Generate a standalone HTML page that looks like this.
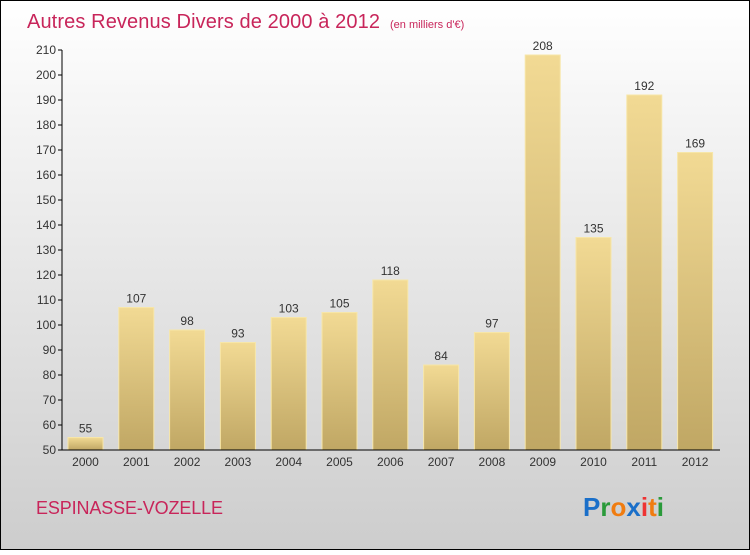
<!DOCTYPE html>
<html><head><meta charset="utf-8"><style>
html,body{margin:0;padding:0}
body{width:750px;height:550px;overflow:hidden;font-family:"Liberation Sans",sans-serif}
</style></head><body>
<svg id="chart" width="750" height="550" xmlns="http://www.w3.org/2000/svg">
<defs>
<linearGradient id="bg" x1="0" y1="0" x2="0" y2="1"><stop offset="0" stop-color="#ffffff"/><stop offset="1" stop-color="#cdcdcd"/></linearGradient>
<linearGradient id="bar" x1="0" y1="0" x2="0" y2="1"><stop offset="0" stop-color="#f2da94"/><stop offset="1" stop-color="#c0a764"/></linearGradient>
</defs>
<rect x="0.5" y="0.5" width="749" height="549" fill="url(#bg)" stroke="#000"/>
<text x="27" y="28" font-size="20" fill="#c8255a" textLength="353">Autres Revenus Divers de 2000 à 2012</text>
<text x="390" y="28" font-size="11" fill="#c8255a">(en milliers d'€)</text>
<g id="bars"></g>
<g id="axes"></g>
<text x="36" y="514" font-size="18" fill="#c8255a" textLength="187">ESPINASSE-VOZELLE</text>
<g font-size="26" font-weight="bold" font-family="'Liberation Sans',sans-serif">
<text x="583" y="516"><tspan fill="#1a6fc9">P</tspan><tspan fill="#2a9a3a">r</tspan><tspan fill="#f07c10">o</tspan><tspan fill="#1a6fc9">x</tspan><tspan fill="#e33">i</tspan><tspan fill="#f07c10">t</tspan><tspan fill="#2a9a3a">i</tspan></text>
</g>
</svg>
<script>
const categories=["2000","2001","2002","2003","2004","2005","2006","2007","2008","2009","2010","2011","2012"];
const values=[55,107,98,93,103,105,118,84,97,208,135,192,169];
const yTicks=[50,60,70,80,90,100,110,120,130,140,150,160,170,180,190,200,210];
const NS="http://www.w3.org/2000/svg";
const y=v=>450-(v-50)*2.5;
const x=i=>85.5+i*50.8;
function mk(t,a,p){const e=document.createElementNS(NS,t);for(const k in a)e.setAttribute(k,a[k]);p.appendChild(e);return e;}
const bars=document.getElementById('bars'),axes=document.getElementById('axes');
values.forEach((v,i)=>{
 const r=mk('rect',{x:x(i)-17.5,y:y(v),width:35,height:450-y(v),fill:'url(#bar)',stroke:'#f7e6a8','stroke-width':1},bars);
 
 
 const t=mk('text',{x:x(i),y:y(v)-5,'text-anchor':'middle','font-size':12,fill:'#333'},bars);
 t.textContent=v;
 
 
 const c=mk('text',{x:x(i),y:466,'text-anchor':'middle','font-size':12,fill:'#333'},axes);
 c.textContent=categories[i];
 
 
});
const ya=mk('line',{x1:62,y1:50,x2:62,y2:450,stroke:'#000'},axes);


const xa=mk('line',{x1:62,y1:450,x2:720,y2:450,stroke:'#000'},axes);


yTicks.forEach(v=>{
 mk('line',{x1:58,y1:y(v),x2:62,y2:y(v),stroke:'#000'},axes);
 const t=mk('text',{x:56,y:y(v)+4,'text-anchor':'end','font-size':12,fill:'#333'},axes);
 t.textContent=v;
 
 
});
</script>
</body></html>
